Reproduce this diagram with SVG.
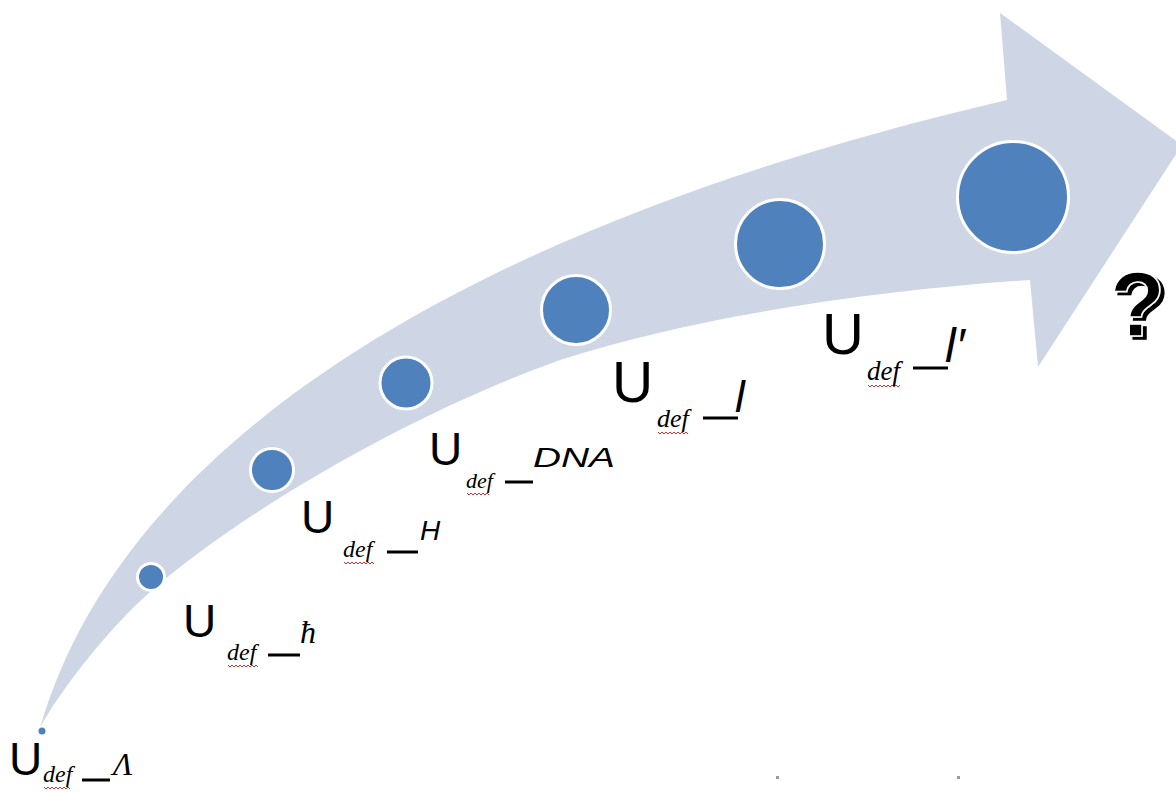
<svg xmlns="http://www.w3.org/2000/svg" width="1176" height="793" viewBox="0 0 1176 793">
<defs>
<filter id="shadow" x="-20%" y="-20%" width="150%" height="150%">
<feOffset in="SourceAlpha" dx="4" dy="3" result="o"/>
<feMerge><feMergeNode in="o"/><feMergeNode in="SourceGraphic"/></feMerge>
</filter>
</defs>
<style>
.band{fill:#ced6e6}
.dot{fill:#4f81bd;stroke:#ffffff;stroke-width:3}
.u{font-family:"Liberation Sans",Arial,sans-serif;fill:#000}
.def{font-family:"Liberation Serif","Times New Roman",serif;font-style:italic;fill:#000}
.sup{font-family:"Liberation Sans",Arial,sans-serif;font-style:italic;fill:#000}
.supS{font-family:"Liberation Serif","Times New Roman",serif;font-style:italic;fill:#000}
.dash{stroke:#000;stroke-width:3}
.wave{fill:none;stroke:#d03030;stroke-width:1}
</style>
<g id="connectors">
<path class="band" d="M40,728 C120,450 450,230 1007,100 L1000,13 L1182,145 L1038,367 L1030,280 C880,290 700,315 560,360 C420,410 250,505 150,592 C110,627 60,690 40,728 Z"/>
</g>
<g id="node-lambda">
<circle cx="42" cy="731" r="3.5" fill="#4f81bd"/>
<text class="u" x="9" y="775" font-size="46">U</text>
<text class="def" x="43" y="782" font-size="24">def</text>
<path class="wave" d="M44,787 l2,2 l2,-2 l2,2 l2,-2 l2,2 l2,-2 l2,2 l2,-2 l2,2 l2,-2 l2,2 l2,-2 l2,2"/>
<line class="dash" x1="82" y1="780" x2="110" y2="780"/>
<text class="supS" x="113" y="775" font-size="32">Λ</text>
</g>
<g id="node-hbar">
<circle class="dot" cx="151" cy="577" r="13.5"/>
<text class="u" x="183" y="637" font-size="46">U</text>
<text class="def" x="227" y="660" font-size="24">def</text>
<path class="wave" d="M228,665 l2,2 l2,-2 l2,2 l2,-2 l2,2 l2,-2 l2,2 l2,-2 l2,2 l2,-2 l2,2 l2,-2 l2,2 l2,-2 l2,2"/>
<line class="dash" x1="268" y1="655" x2="300" y2="655"/>
<text class="supS" x="300" y="643" font-size="32">ħ</text>
</g>
<g id="node-H">
<circle class="dot" cx="272" cy="470" r="21.5"/>
<text class="u" x="301" y="533" font-size="46">U</text>
<text class="def" x="343" y="557" font-size="24">def</text>
<path class="wave" d="M344,562 l2,2 l2,-2 l2,2 l2,-2 l2,2 l2,-2 l2,2 l2,-2 l2,2 l2,-2 l2,2 l2,-2 l2,2 l2,-2 l2,2"/>
<line class="dash" x1="387" y1="552" x2="418" y2="552"/>
<text class="sup" x="420" y="540" font-size="28">H</text>
</g>
<g id="node-DNA">
<circle class="dot" cx="406" cy="383" r="26"/>
<text class="u" x="429" y="465" font-size="46">U</text>
<text class="def" x="466" y="488" font-size="22">def</text>
<path class="wave" d="M467,493 l2,2 l2,-2 l2,2 l2,-2 l2,2 l2,-2 l2,2 l2,-2 l2,2 l2,-2 l2,2"/>
<line class="dash" x1="505" y1="482" x2="533" y2="482"/>
<text class="sup" x="533" y="467" font-size="28" textLength="82" lengthAdjust="spacingAndGlyphs">DNA</text>
</g>
<g id="node-l">
<circle class="dot" cx="576" cy="310" r="34.5"/>
<text class="u" x="612" y="402" font-size="57">U</text>
<text class="def" x="657" y="427" font-size="26">def</text>
<path class="wave" d="M658,432 l2,2 l2,-2 l2,2 l2,-2 l2,2 l2,-2 l2,2 l2,-2 l2,2 l2,-2 l2,2 l2,-2 l2,2 l2,-2 l2,2"/>
<line class="dash" x1="703" y1="418" x2="738" y2="418"/>
<text class="sup" x="735" y="412" font-size="44">l</text>
</g>
<g id="node-lprime">
<circle class="dot" cx="780" cy="244" r="44.5"/>
<text class="u" x="822" y="354" font-size="58">U</text>
<text class="def" x="867" y="380" font-size="27">def</text>
<path class="wave" d="M868,385 l2,2 l2,-2 l2,2 l2,-2 l2,2 l2,-2 l2,2 l2,-2 l2,2 l2,-2 l2,2 l2,-2 l2,2 l2,-2 l2,2 l2,-2"/>
<line class="dash" x1="913" y1="368" x2="948" y2="368"/>
<text class="sup" x="945" y="362" font-size="48">l′</text>
</g>
<g id="node-question">
<circle class="dot" cx="1013" cy="197" r="55.5"/>
<text x="1110" y="336" font-family="Liberation Sans, Arial, sans-serif" font-weight="bold" font-size="90" fill="#000" stroke="#fff" stroke-width="1.5" filter="url(#shadow)">?</text>
</g>
<rect x="776" y="776" width="3" height="3" fill="#999"/>
<rect x="957" y="776" width="3" height="3" fill="#999"/>
</svg>
